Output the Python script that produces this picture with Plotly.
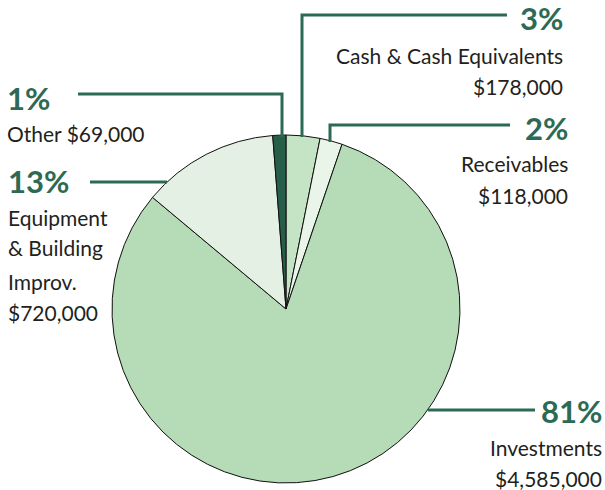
import plotly.graph_objects as go

categories = ["Cash & Cash Equivalents", "Receivables", "Investments", "Equipment & Building Improv.", "Other"]
values = [178000, 118000, 4585000, 720000, 69000]
percent_labels = ["3%", "2%", "81%", "13%", "1%"]
slice_colors = ["#c5e3c5", "#eaf5ea", "#b5dbb7", "#e4f0e3", "#265e4a"]

W, H = 605, 490
GREEN = "#2d6a54"
TEXT = "#231f20"
PCT_FONT = dict(family="Lato, Open Sans, sans-serif", size=31, color=GREEN)
LBL_FONT = dict(family="Lato, Open Sans, sans-serif", size=21, color=TEXT)

cx, cy, r = 286, 309, 174

def px(x):
    return x / W

def py(y):
    return 1 - y / H

fig = go.Figure(go.Pie(
    labels=categories,
    values=values,
    sort=False,
    direction="clockwise",
    rotation=0,
    marker=dict(colors=slice_colors, line=dict(color="#111111", width=1)),
    textinfo="none",
    hoverinfo="label+value+percent",
    showlegend=False,
    domain=dict(x=[px(cx - r), px(cx + r)], y=[py(cy + r), py(cy - r)]),
))

def path(points):
    d = "M " + " L ".join(f"{px(x)},{py(y)}" for x, y in points)
    return dict(type="path", path=d, xref="paper", yref="paper",
                line=dict(color=GREEN, width=3))

shapes = [
    path([(302, 137), (302, 15), (507, 15)]),
    path([(330, 142), (330, 125), (510, 125)]),
    path([(282, 137), (282, 94), (78, 94)]),
    path([(90, 182), (167, 182)]),
    path([(428, 410), (535, 410)]),
]

annotations = []

def ann(text, x, y, xanchor, font, bold=False):
    t = f"<b>{text}</b>" if bold else text
    annotations.append(dict(text=t, x=px(x), y=py(y), xref="paper", yref="paper",
                            xanchor=xanchor, yanchor="middle", showarrow=False,
                            font=font))

# Cash
ann(percent_labels[0], 565, 18, "right", PCT_FONT, True)
ann(categories[0], 565, 55, "right", LBL_FONT)
ann("$178,000", 565, 86, "right", LBL_FONT)
# Receivables
ann(percent_labels[1], 570, 128, "right", PCT_FONT, True)
ann(categories[1], 570, 163, "right", LBL_FONT)
ann("$118,000", 570, 195, "right", LBL_FONT)
# Investments
ann(percent_labels[2], 604, 411, "right", PCT_FONT, True)
ann(categories[2], 604, 447, "right", LBL_FONT)
ann("$4,585,000", 604, 478, "right", LBL_FONT)
# Other
ann(percent_labels[4], 5, 98, "left", PCT_FONT, True)
ann("Other $69,000", 5, 134, "left", LBL_FONT)
# Equipment
ann(percent_labels[3], 6, 181, "left", PCT_FONT, True)
ann("Equipment", 6, 217, "left", LBL_FONT)
ann("&amp; Building", 6, 248, "left", LBL_FONT)
ann("Improv.", 6, 281, "left", LBL_FONT)
ann("$720,000", 6, 312, "left", LBL_FONT)

fig.update_layout(
    width=W, height=H,
    margin=dict(l=0, r=0, t=0, b=0),
    paper_bgcolor="white",
    plot_bgcolor="white",
    shapes=shapes,
    annotations=annotations,
)

fig.write_html("out.html", config={"displayModeBar": False},
               post_script="document.body.style.margin='0';")
